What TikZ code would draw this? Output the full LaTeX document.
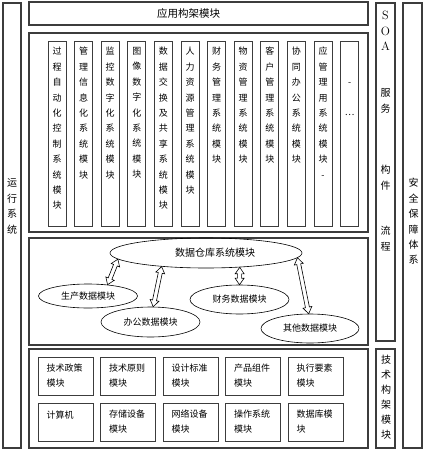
\documentclass[tikz,border=0pt]{standalone}
\usepackage{fontspec}
\usepackage{tikz}
\usetikzlibrary{shapes.geometric, calc, positioning}
\newfontfamily\cjk{Noto Sans CJK SC}
\definecolor{frameGray}{RGB}{60, 60, 60}

\begin{document}
\begin{tikzpicture}[x=1pt, y=-1pt,
    frame/.style={rectangle, draw=frameGray, line width=1.1pt, inner sep=0pt},
    colbox/.style={rectangle, draw=frameGray, line width=0.8pt, minimum width=18pt, minimum height=185pt, inner sep=0pt},
    coltext/.style={font={\cjk\fontsize{9}{15.4}\selectfont}, align=center, inner sep=0pt},
    sidetext/.style={font={\cjk\fontsize{10}{15.4}\selectfont}, align=center, inner sep=0pt},
    dbnode/.style={ellipse, draw, line width=0.6pt, font={\cjk\fontsize{9}{11}\selectfont}, inner sep=0pt},
    techbox/.style={rectangle, draw=frameGray, line width=0.8pt, minimum width=55pt, minimum height=38pt, text width=38pt, inner xsep=8.5pt, align=left, font={\cjk\fontsize{9}{15}\selectfont}},
    dblarrow/.style={draw, line width=0.6pt, line join=miter, to path={
        let \p1=(\tikztostart), \p2=(\tikztotarget), \n1={atan2(\y2-\y1,\x2-\x1)} in
        -- ($(\p1)+(\n1:6.5pt)+(\n1+90:4.5pt)$)
        -- ($(\p1)+(\n1:6.5pt)+(\n1+90:2pt)$)
        -- ($(\p2)+(\n1:-6.5pt)+(\n1+90:2pt)$)
        -- ($(\p2)+(\n1:-6.5pt)+(\n1+90:4.5pt)$)
        -- (\p2)
        -- ($(\p2)+(\n1:-6.5pt)+(\n1-90:4.5pt)$)
        -- ($(\p2)+(\n1:-6.5pt)+(\n1-90:2pt)$)
        -- ($(\p1)+(\n1:6.5pt)+(\n1-90:2pt)$)
        -- ($(\p1)+(\n1:6.5pt)+(\n1-90:4.5pt)$)
        -- cycle}}]

    \useasboundingbox (0,0) rectangle (423,450);

    % outer frames
    \node (run) [frame, minimum width=18pt, minimum height=445pt] at (12,225.5) {};
    \node (runt) [sidetext] at (12,206.5) {运\\行\\系\\统};
    \node (app) [frame, minimum width=339pt, minimum height=23pt, font={\cjk\fontsize{10.5}{12}\selectfont}] at (198.5,13.5) {应用构架模块\hspace*{20pt}};
    \node (mods) [frame, minimum width=339pt, minimum height=199pt] at (198.5,132.5) {};
    \node (dwbox) [frame, minimum width=339pt, minimum height=107pt] at (198.5,291.5) {};
    \node (tech) [frame, minimum width=339pt, minimum height=99pt] at (198.5,398.5) {};
    \node (soa) [frame, minimum width=19pt, minimum height=338pt] at (385.5,172) {};
    \node (soat) [sidetext, font={\cjk\fontsize{10}{15.5}\selectfont}, below=8.6pt of soa.north] {{\normalfont\large S}\\{\normalfont\large O}\\{\normalfont\large A}\\[30.5pt]服\\务\\[45.9pt]构\\件\\[30pt]流\\程};
    \node (arch) [frame, minimum width=19pt, minimum height=99pt] at (385.5,398.5) {};
    \node (archt) [sidetext, font={\cjk\fontsize{10}{15}\selectfont}] at (386,397.5) {技\\术\\构\\架\\模\\块};
    \node (sec) [frame, minimum width=19pt, minimum height=445pt] at (412.5,225.5) {};
    \node (sect) [sidetext] at (413.5,221.5) {安\\全\\保\\障\\体\\系};

    % application modules
    \node (m1) [colbox] at (57,133.5) {};
    \node (m2) [colbox, right=7.8pt of m1] {};
    \node (m3) [colbox, right=7.8pt of m2] {};
    \node (m4) [colbox, right=7.8pt of m3] {};
    \node (m5) [colbox, right=7.8pt of m4] {};
    \node (m6) [colbox, right=7.8pt of m5] {};
    \node (m7) [colbox, right=7.8pt of m6] {};
    \node (m8) [colbox, right=7.8pt of m7] {};
    \node (m9) [colbox, right=7.8pt of m8] {};
    \node (m10) [colbox, right=7.8pt of m9] {};
    \node (m11) [colbox, right=7.8pt of m10] {};
    \node (m12) [colbox, right=7.8pt of m11] {};

    \node (m1t) [coltext, below=6.5pt of m1.north] {过\\程\\自\\动\\化\\控\\制\\系\\统\\模\\块};
    \node (m2t) [coltext, below=6.5pt of m2.north] {管\\理\\信\\息\\化\\系\\统\\模\\块};
    \node (m3t) [coltext, below=6.5pt of m3.north] {监\\控\\数\\字\\化\\系\\统\\模\\块};
    \node (m4t) [coltext, below=6.5pt of m4.north] {图\\像\\数\\字\\化\\系\\统\\模\\块};
    \node (m5t) [coltext, below=6.5pt of m5.north] {数\\据\\交\\换\\及\\共\\享\\系\\统\\模\\块};
    \node (m6t) [coltext, below=6.5pt of m6.north] {人\\力\\资\\源\\管\\理\\系\\统\\模\\块};
    \node (m7t) [coltext, below=6.5pt of m7.north] {财\\务\\管\\理\\系\\统\\模\\块};
    \node (m8t) [coltext, below=6.5pt of m8.north] {物\\资\\管\\理\\系\\统\\模\\块};
    \node (m9t) [coltext, below=6.5pt of m9.north] {客\\户\\管\\理\\系\\统\\模\\块};
    \node (m10t) [coltext, below=6.5pt of m10.north] {协\\同\\办\\公\\系\\统\\模\\块};
    \node (m11t) [coltext, below=6.5pt of m11.north] {应\\管\\理\\用\\系\\统\\模\\块\\-};
    \node (m12t) [coltext, below=41.7pt of m12.north] {-\\[14.6pt]…};

    % data warehouse
    \node (dw) [dbnode, minimum width=192pt, minimum height=30pt, font={\cjk\fontsize{10}{12}\selectfont}] at (206,253) {\hspace*{18pt}数据仓库系统模块};
    \node (prod) [dbnode, minimum width=99pt, minimum height=24pt] at (88,296) {生产数据模块};
    \node (office) [dbnode, minimum width=99pt, minimum height=30pt] at (150.5,322) {办公数据模块};
    \node (fin) [dbnode, minimum width=99pt, minimum height=29pt] at (239.5,299.5) {财务数据模块};
    \node (other) [dbnode, minimum width=98pt, minimum height=29pt] at (310,328.5) {其他数据模块};

    \draw[dblarrow] (dw.184) to (prod.30);
    \draw[dblarrow] (dw.197) to (office.80);
    \draw[dblarrow] (dw.337) to (fin.north);
    \draw[dblarrow] (dw.357) to (other.95);

    % technical modules
    \node (t1) [techbox] at (65.5,376) {技术政策\\模块};
    \node (t2) [techbox, right=6.7pt of t1] {技术原则\\模块};
    \node (t3) [techbox, right=6.7pt of t2] {设计标准\\模块};
    \node (t4) [techbox, right=6.7pt of t3] {产品组件\\模块};
    \node (t5) [techbox, right=6.7pt of t4] {执行要素\\模块};
    \node (t6) [techbox, below=7.2pt of t1] {计算机\\~};
    \node (t7) [techbox, right=6.7pt of t6] {存储设备\\模块};
    \node (t8) [techbox, right=6.7pt of t7] {网络设备\\模块};
    \node (t9) [techbox, right=6.7pt of t8] {操作系统\\模块};
    \node (t10) [techbox, right=6.7pt of t9] {数据库模\\块};

\end{tikzpicture}
\end{document}
